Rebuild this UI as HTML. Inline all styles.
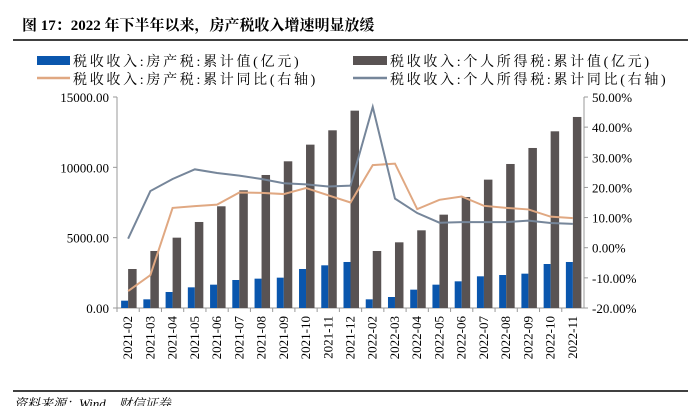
<!DOCTYPE html>
<html><head><meta charset="utf-8"><style>
body{margin:0;background:#fff;width:688px;height:406px;overflow:hidden;font-family:"Liberation Serif","Noto Serif CJK SC",serif;}
svg{display:block}
</style></head><body>
<svg width="688" height="406" id="c">
<text x="22" y="30" font-size="15" font-weight="bold" fill="#000" font-family="Liberation Serif, Noto Serif CJK SC, serif">图 17：2022 年下半年以来，房产税收入增速明显放缓</text>
<line x1="13" y1="40" x2="688" y2="40" stroke="#000" stroke-width="1.5"/>
<g font-size="14" letter-spacing="2.7" font-family="Liberation Serif, Noto Serif CJK SC, serif" fill="#000">
<rect x="37" y="56" width="33" height="9" fill="#0a56ad"/>
<text x="73" y="66">税收收入:房产税:累计值(亿元)</text>
<rect x="353" y="56" width="34" height="9" fill="#595353"/>
<text x="390" y="66">税收收入:个人所得税:累计值(亿元)</text>
<line x1="37" y1="78" x2="70" y2="78" stroke="#e0a882" stroke-width="2.5"/>
<text x="73" y="84">税收收入:房产税:累计同比(右轴)</text>
<line x1="353" y1="78" x2="387" y2="78" stroke="#76869a" stroke-width="2.5"/>
<text x="390" y="84">税收收入:个人所得税:累计同比(右轴)</text>
</g>
<g id="plot"></g>
<line x1="13" y1="391" x2="688" y2="391" stroke="#000" stroke-width="1.5"/>
<text x="14" y="408" font-size="13" font-style="italic" fill="#000">资料来源：Wind，财信证券</text>
</svg>
<script>
const categories=["2021-02","2021-03","2021-04","2021-05","2021-06","2021-07","2021-08","2021-09","2021-10","2021-11","2021-12","2022-02","2022-03","2022-04","2022-05","2022-06","2022-07","2022-08","2022-09","2022-10","2022-11"];
const propertyValue=[521,616,1138,1469,1659,1991,2086,2157,2773,3034,3271,616,782,1304,1659,1896,2252,2346,2441,3128,3271];
const incomeValue=[2773,4053,5000,6115,7230,8366,9456,10428,11613,12632,14030,4053,4669,5522,6636,7892,9125,10238,11376,12561,13580];
const propertyYoy=[-14.4,-9.1,13.2,13.8,14.3,18.3,18.2,17.8,19.8,17.4,15.0,27.4,27.9,12.8,15.9,17.0,13.9,13.2,12.7,10.3,9.8];
const incomeYoy=[3.0,18.8,22.8,26.0,24.8,23.9,22.8,21.4,21.0,20.3,20.6,46.7,16.3,11.5,8.3,8.5,8.5,8.5,9.0,8.2,7.9];
const leftTicks=[0,5000,10000,15000];
const rightTicks=[-20,-10,0,10,20,30,40,50];
const NS="http://www.w3.org/2000/svg";
const g=document.getElementById('plot');
const X0=117,X1=584,Y0=308,Y1=97;
const step=(X1-X0)/categories.length;
const cx=i=>X0+step*(i+0.5);
const yL=v=>Y0-(v/15000)*(Y0-Y1);
const yR=v=>Y0-((v+20)/70)*(Y0-Y1);
function mk(t,a){const e=document.createElementNS(NS,t);for(const k in a)e.setAttribute(k,a[k]);g.appendChild(e);return e;}
let e=mk('line',{x1:X0,y1:Y1,x2:X0,y2:Y0,stroke:'#999'});


e=mk('line',{x1:X1,y1:Y1,x2:X1,y2:Y0,stroke:'#999'});


e=mk('line',{x1:X0,y1:Y0,x2:X1,y2:Y0,stroke:'#999'});


leftTicks.forEach(v=>{
 const y=yL(v);
 mk('line',{x1:X0-4,y1:y,x2:X0,y2:y,stroke:'#999'});
 const t=mk('text',{x:X0-8,y:y+5,'font-size':13,'text-anchor':'end',fill:'#000'});
 t.textContent=v.toFixed(2);
 
 
});
rightTicks.forEach(v=>{
 const y=yR(v);
 mk('line',{x1:X1,y1:y,x2:X1+4,y2:y,stroke:'#999'});
 const t=mk('text',{x:X1+8,y:y+5,'font-size':13,fill:'#000'});
 t.textContent=v.toFixed(2)+'%';
 
 
});
categories.forEach((c,i)=>{
 mk('line',{x1:X0+step*i,y1:Y0,x2:X0+step*i,y2:Y0+4,stroke:'#999'});
 const b=mk('rect',{x:cx(i)-7,y:yL(propertyValue[i]),width:7,height:Y0-yL(propertyValue[i]),fill:'#0a56ad'});
 
 
 const b2=mk('rect',{x:cx(i),y:yL(incomeValue[i]),width:8.5,height:Y0-yL(incomeValue[i]),fill:'#595353'});
 
 
 const t=mk('text',{x:0,y:0,'font-size':13,'text-anchor':'end',fill:'#000',transform:`translate(${cx(i)+4},${Y0+8}) rotate(-90)`});
 t.textContent=c;
 
 
});
let p1=mk('polyline',{points:propertyYoy.map((v,i)=>cx(i)+','+yR(v)).join(' '),fill:'none',stroke:'#e0a882','stroke-width':2});


let p2=mk('polyline',{points:incomeYoy.map((v,i)=>cx(i)+','+yR(v)).join(' '),fill:'none',stroke:'#76869a','stroke-width':2});


</script>
</body></html>
